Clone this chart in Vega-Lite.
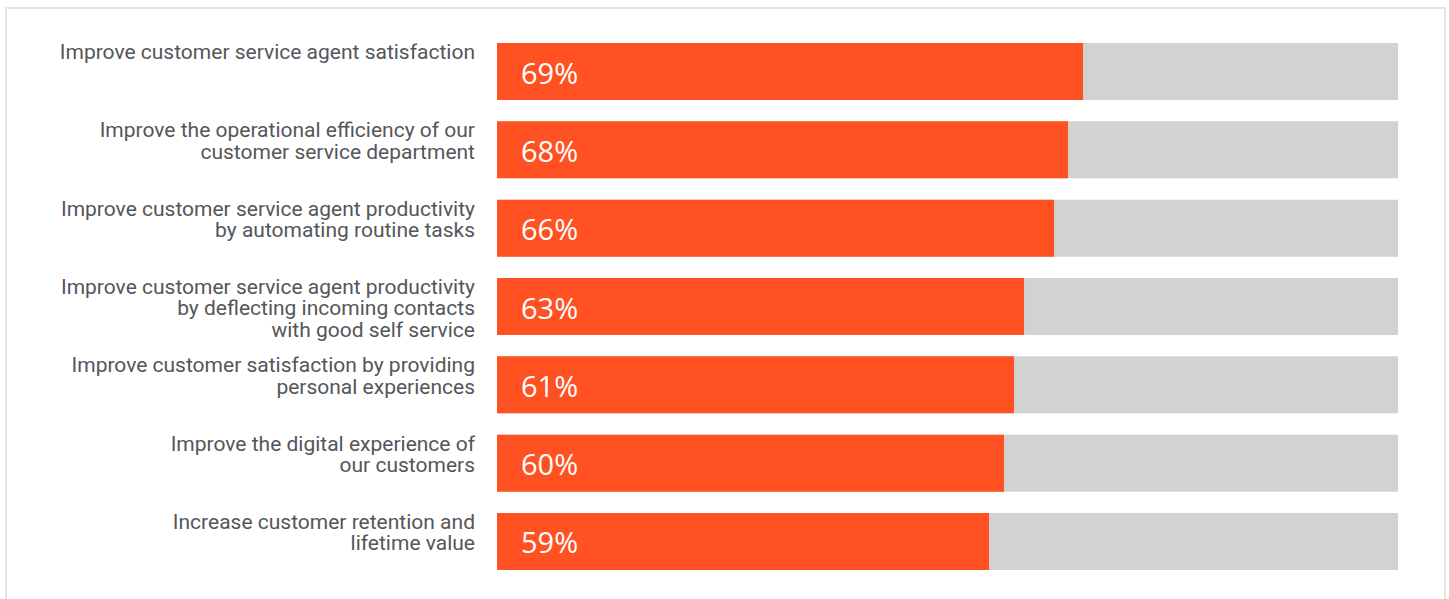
{
  "$schema": "https://vega.github.io/schema/vega-lite/v6.json",
  "width": 1439,
  "height": 597,
  "autosize": {"type": "none"},
  "padding": {"left": 6, "top": 8, "right": 4, "bottom": 0},
  "background": "white",
  "config": {
    "view": {"stroke": "#e4e4e4", "strokeWidth": 2},
    "font": "Roboto"
  },
  "data": {
    "values": [
      {"cat": "Improve customer service agent satisfaction", "share": 0.69, "bar": 65.04, "total": 100},
      {"cat": "Improve the operational efficiency of our\ncustomer service department", "share": 0.68, "bar": 63.37, "total": 100},
      {"cat": "Improve customer service agent productivity\nby automating routine tasks", "share": 0.66, "bar": 61.82, "total": 100},
      {"cat": "Improve customer service agent productivity\nby deflecting incoming contacts\nwith good self service", "share": 0.63, "bar": 58.49, "total": 100},
      {"cat": "Improve customer satisfaction by providing\npersonal experiences", "share": 0.61, "bar": 57.38, "total": 100},
      {"cat": "Improve the digital experience of\nour customers", "share": 0.60, "bar": 56.27, "total": 100},
      {"cat": "Increase customer retention and\nlifetime value", "share": 0.59, "bar": 54.61, "total": 100}
    ]
  },
  "encoding": {
    "y": {
      "field": "cat",
      "type": "nominal",
      "sort": null,
      "axis": null,
      "scale": {"paddingInner": 0.2723, "paddingOuter": 0.4468}
    }
  },
  "layer": [
    {
      "mark": {"type": "bar", "color": "#d2d2d2"},
      "encoding": {
        "x": {"field": "total", "type": "quantitative", "axis": null, "scale": {"domain": [-54.49, 105.21], "nice": false, "zero": false}}
      }
    },
    {
      "mark": {"type": "bar", "color": "#ff5121"},
      "encoding": {
        "x": {"field": "bar", "type": "quantitative"}
      }
    },
    {
      "mark": {"type": "text", "align": "left", "baseline": "middle", "dx": 24, "dy": 3, "color": "white", "font": "Open Sans", "fontSize": 29},
      "encoding": {
        "x": {"datum": 0, "type": "quantitative"},
        "text": {"field": "share", "type": "quantitative", "format": ".0%"}
      }
    },
    {
      "mark": {"type": "text", "align": "right", "baseline": "top", "dx": -22, "dy": -1, "color": "#54565a", "font": "Roboto", "fontSize": 21, "lineBreak": "\n", "lineHeight": 21.5},
      "encoding": {
        "x": {"datum": 0, "type": "quantitative"},
        "y": {"field": "cat", "type": "nominal", "sort": null, "bandPosition": 0},
        "text": {"field": "cat", "type": "nominal"}
      }
    }
  ]
}
